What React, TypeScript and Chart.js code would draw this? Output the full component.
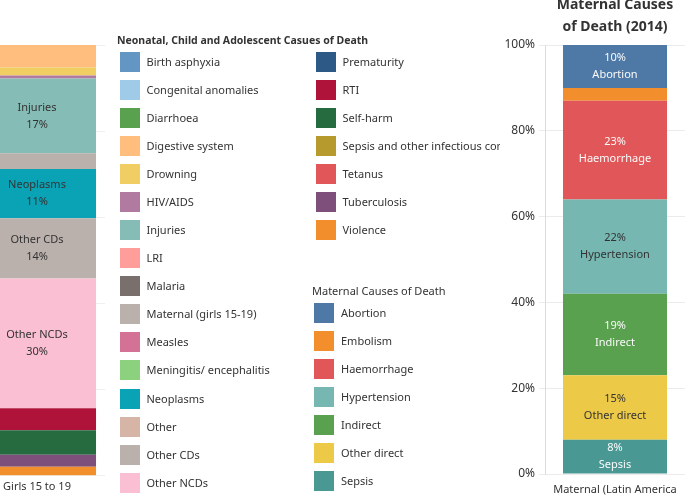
import React, { useEffect, useRef } from "react";
import { Chart, registerables } from "chart.js";

Chart.register(...registerables);

const FONT = "'Noto Sans', 'DejaVu Sans', sans-serif";
const TEXT = "#333333";

// ---- Neonatal, child and adolescent causes (Girls 15 to 19) ----
const childCauses = [
  "Birth asphyxia",
  "Congenital anomalies",
  "Diarrhoea",
  "Digestive system",
  "Drowning",
  "HIV/AIDS",
  "Injuries",
  "LRI",
  "Malaria",
  "Maternal (girls 15-19)",
  "Measles",
  "Meningitis/ encephalitis",
  "Neoplasms",
  "Other",
  "Other CDs",
  "Other NCDs",
  "Prematurity",
  "RTI",
  "Self-harm",
  "Sepsis and other infectious conditions of the newborn",
  "Tetanus",
  "Tuberculosis",
  "Violence",
];
const childColors = [
  "#6496C3",
  "#A0CBE8",
  "#59A14F",
  "#FFBE7D",
  "#F1CE63",
  "#B07AA1",
  "#86BCB6",
  "#FF9D9A",
  "#79706E",
  "#BAB0AC",
  "#D37295",
  "#8CD17D",
  "#0AA2B5",
  "#D7B5A6",
  "#BAB0AC",
  "#FABFD2",
  "#2C5985",
  "#B0133A",
  "#256B3F",
  "#B69A2D",
  "#E15759",
  "#7E4F7B",
  "#F28E2B",
];
const girlsCategory = ["Girls 15 to 19"];
const girlsShares = [0, 0, 0, 5.2, 1.9, 0.7, 17.3, 0, 0, 3.7, 0, 0, 11.4, 0, 14.0, 30.1, 0, 5.1, 5.7, 0, 0, 2.8, 2.1];
const childLegendTitle = "Neonatal, Child and Adolescent Casues of Death";

// ---- Maternal causes (2014) ----
const maternalCauses = ["Abortion", "Embolism", "Haemorrhage", "Hypertension", "Indirect", "Other direct", "Sepsis"];
const maternalColors = ["#4E79A7", "#F28E2B", "#E15759", "#76B7B2", "#59A14F", "#EDC948", "#499894"];
const maternalShares = [10, 3, 23, 22, 19, 15, 8];
const maternalCategory = ["Maternal (Latin America"];
const maternalTitle = ["Maternal Causes", "of Death (2014)"];
const maternalLegendTitle = "Maternal Causes of Death";
const percentTicks = [0, 20, 40, 60, 80, 100];

function luminance(hex: string) {
  const h = hex.replace("#", "");
  const c = [0, 2, 4]
    .map((i) => parseInt(h.slice(i, i + 2), 16) / 255)
    .map((v) => (v <= 0.03928 ? v / 12.92 : Math.pow((v + 0.055) / 1.055, 2.4)));
  return 0.2126 * c[0] + 0.7152 * c[1] + 0.0722 * c[2];
}

function segmentLabels(order: "namePct" | "pctName", colorFor: (bg: string) => string) {
  return {
    id: "segmentLabels",
    afterDatasetsDraw(chart: any) {
      const ctx = chart.ctx;
      ctx.save();
      ctx.font = `11px ${FONT}`;
      ctx.textAlign = "center";
      ctx.textBaseline = "middle";
      chart.data.datasets.forEach((ds: any, i: number) => {
        const meta = chart.getDatasetMeta(i);
        meta.data.forEach((bar: any, j: number) => {
          const v = ds.data[j];
          const p = bar.getProps(["x", "y", "base"], true);
          const h = Math.abs(p.base - p.y);
          if (h < 30) return;
          const cy = (p.y + p.base) / 2;
          const pct = Math.round(v) + "%";
          const lines = order === "namePct" ? [ds.label, pct] : [pct, ds.label];
          ctx.fillStyle = colorFor(ds.backgroundColor);
          ctx.fillText(lines[0], p.x, cy - 8.5);
          ctx.fillText(lines[1], p.x, cy + 8.5);
        });
      });
      ctx.restore();
    },
  };
}

function GirlsChart() {
  const ref = useRef<HTMLCanvasElement>(null);
  useEffect(() => {
    if (!ref.current) return;
    const chart = new Chart(ref.current, {
      type: "bar",
      data: {
        labels: girlsCategory,
        datasets: childCauses
          .map((c, i) => ({
            label: c,
            data: [girlsShares[i]],
            backgroundColor: childColors[i],
            borderWidth: 0,
            barPercentage: 0.868,
            categoryPercentage: 1,
          }))
          .reverse(),
      },
      options: {
        responsive: false,
        animation: false,
        layout: { padding: { top: 45, left: 0, right: 0, bottom: 0 } },
        plugins: { legend: { display: false }, tooltip: { enabled: false }, title: { display: false } },
        scales: {
          x: {
            stacked: true,
            grid: { display: false, drawTicks: false },
            border: { display: false },
            ticks: { color: TEXT, font: { family: FONT, size: 11 }, padding: 4, maxRotation: 0, autoSkip: false },
          },
          y: {
            stacked: true,
            min: 0,
            max: 100,
            ticks: { display: false, stepSize: 20 },
            grid: { color: "#efefef", drawTicks: false },
            border: { display: false },
            afterFit: (s: any) => {
              s.width = 0;
            },
          },
        },
      } as any,
      plugins: [segmentLabels("namePct", () => TEXT)],
    });
    return () => chart.destroy();
  }, []);
  return (
    <canvas
      ref={ref}
      width={136}
      height={497}
      style={{ position: "absolute", left: -31, top: 0, width: 136, height: 497 }}
    />
  );
}

function MaternalChart() {
  const ref = useRef<HTMLCanvasElement>(null);
  useEffect(() => {
    if (!ref.current) return;
    const chart = new Chart(ref.current, {
      type: "bar",
      data: {
        labels: maternalCategory,
        datasets: maternalCauses
          .map((c, i) => ({
            label: c,
            data: [maternalShares[i]],
            backgroundColor: maternalColors[i],
            borderWidth: 0,
            barPercentage: 0.743,
            categoryPercentage: 1,
          }))
          .reverse(),
      },
      options: {
        responsive: false,
        animation: false,
        layout: { padding: { top: 0, left: 0, right: 5, bottom: 0 } },
        plugins: {
          legend: { display: false },
          tooltip: { enabled: false },
          title: {
            display: true,
            text: maternalTitle,
            fullSize: false,
            color: TEXT,
            font: { family: FONT, size: 14, weight: "bold", lineHeight: 1.55 },
            padding: { top: 6.2, bottom: 7.4 },
          },
        },
        scales: {
          x: {
            stacked: true,
            grid: { display: false, drawTicks: false },
            border: { display: false },
            ticks: {
              color: TEXT,
              font: { family: FONT, size: 11, lineHeight: 2.8 },
              padding: 0,
              maxRotation: 0,
              autoSkip: false,
            },
            afterFit: (s: any) => {
              s.height = 23;
            },
          },
          y: {
            stacked: true,
            min: percentTicks[0],
            max: percentTicks[percentTicks.length - 1],
            ticks: {
              stepSize: percentTicks[1] - percentTicks[0],
              callback: (v: any) => v + "%",
              padding: 4,
              color: TEXT,
              font: { family: FONT, size: 12 },
            },
            grid: { color: "#ebebeb", tickLength: 6 },
            border: { display: true, color: "#dcdcdc" },
            afterFit: (s: any) => {
              s.width = 55;
            },
          },
        },
      } as any,
      plugins: [segmentLabels("pctName", (bg) => (luminance(bg) > 0.35 ? TEXT : "#FAFAFA"))],
    });
    return () => chart.destroy();
  }, []);
  return (
    <canvas
      ref={ref}
      width={200}
      height={509}
      style={{ position: "absolute", left: 490, top: -12, width: 200, height: 509 }}
    />
  );
}

function LegendItem({ left, center, textLeft, color, label }: any) {
  return (
    <>
      <div style={{ position: "absolute", left, top: center - 10, width: 20, height: 20, background: color }} />
      <div
        style={{
          position: "absolute",
          left: textLeft,
          top: center - 10,
          height: 20,
          lineHeight: "20px",
          whiteSpace: "nowrap",
          fontSize: 11,
          color: TEXT,
        }}
      >
        {label}
      </div>
    </>
  );
}

function Legends() {
  const col1 = 16;
  return (
    <div style={{ position: "absolute", left: 0, top: 0, width: 500, height: 497, overflow: "hidden", fontFamily: FONT }}>
      <div
        style={{
          position: "absolute",
          left: 117,
          top: 30,
          lineHeight: "20px",
          fontSize: 10.5,
          fontWeight: "bold",
          color: TEXT,
          whiteSpace: "nowrap",
        }}
      >
        {childLegendTitle}
      </div>
      {childCauses.map((c, i) => {
        const inFirst = i < col1;
        const row = inFirst ? i : i - col1;
        return (
          <LegendItem
            key={c}
            left={inFirst ? 120 : 316}
            textLeft={inFirst ? 146.5 : 342.5}
            center={61.7 + row * 28.07}
            color={childColors[i]}
            label={c}
          />
        );
      })}
      <div
        style={{
          position: "absolute",
          left: 312,
          top: 280.7,
          lineHeight: "20px",
          fontSize: 11,
          color: TEXT,
          whiteSpace: "nowrap",
        }}
      >
        {maternalLegendTitle}
      </div>
      {maternalCauses.map((c, i) => (
        <LegendItem key={c} left={314} textLeft={341} center={313 + i * 28} color={maternalColors[i]} label={c} />
      ))}
    </div>
  );
}

export default function App() {
  return (
    <div
      style={{
        position: "fixed",
        left: 0,
        top: 0,
        width: 686,
        height: 497,
        overflow: "hidden",
        background: "#ffffff",
        fontFamily: FONT,
      }}
    >
      <GirlsChart />
      <Legends />
      <MaternalChart />
    </div>
  );
}
